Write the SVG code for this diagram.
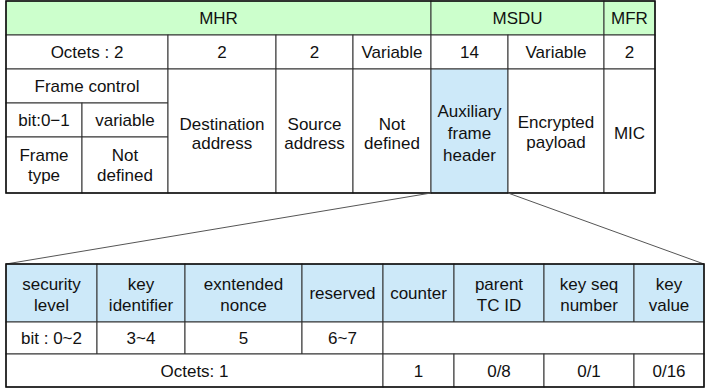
<svg xmlns="http://www.w3.org/2000/svg" width="705" height="389" viewBox="0 0 705 389">
  <style>
    rect { stroke: #333; stroke-width: 1; }
    .w { fill: #ffffff; }
    .g { fill: #ccffcc; }
    .b { fill: #cde9f9; }
    text { font-family: "Liberation Sans", Arial, sans-serif; font-size: 17px; fill: #111; text-anchor: middle; }
    .link { stroke: #555; stroke-width: 1; fill: none; }
    .frame { fill: none; stroke: #111; stroke-width: 1.5; }
  </style>

  <!-- MAC frame: header row -->
  <g id="mhr"><rect class="g" x="6" y="1" width="425" height="34"/><text x="218.5" y="24">MHR</text></g>
  <g id="msdu"><rect class="g" x="431" y="1" width="173" height="34"/><text x="517.5" y="24">MSDU</text></g>
  <g id="mfr"><rect class="g" x="604" y="1" width="51" height="34"/><text x="629.5" y="24">MFR</text></g>

  <!-- octet counts -->
  <g id="oct-fc"><rect class="w" x="6" y="35" width="162" height="34"/><text x="87" y="58">Octets : 2</text></g>
  <g id="oct-dst"><rect class="w" x="168" y="35" width="108" height="34"/><text x="222" y="58">2</text></g>
  <g id="oct-src"><rect class="w" x="276" y="35" width="77" height="34"/><text x="314.5" y="58">2</text></g>
  <g id="oct-nd"><rect class="w" x="353" y="35" width="78" height="34"/><text x="392" y="58">Variable</text></g>
  <g id="oct-aux"><rect class="w" x="431" y="35" width="77" height="34"/><text x="469.5" y="58">14</text></g>
  <g id="oct-pay"><rect class="w" x="508" y="35" width="96" height="34"/><text x="556" y="58">Variable</text></g>
  <g id="oct-mic"><rect class="w" x="604" y="35" width="51" height="34"/><text x="629.5" y="58">2</text></g>

  <!-- frame control breakdown -->
  <g id="frame-control"><rect class="w" x="6" y="69" width="162" height="34"/><text x="87" y="92">Frame control</text></g>
  <g id="fc-bits"><rect class="w" x="6" y="103" width="76" height="34"/><text x="44" y="126">bit:0−1</text></g>
  <g id="fc-var"><rect class="w" x="82" y="103" width="86" height="34"/><text x="125" y="126">variable</text></g>
  <g id="frame-type"><rect class="w" x="6" y="137" width="76" height="56"/><text x="44" y="161">Frame</text><text x="44" y="181">type</text></g>
  <g id="fc-nd"><rect class="w" x="82" y="137" width="86" height="56"/><text x="125" y="161">Not</text><text x="125" y="181">defined</text></g>

  <!-- address and payload fields -->
  <g id="dst-addr"><rect class="w" x="168" y="69" width="108" height="124"/><text x="222" y="130">Destination</text><text x="222" y="149">address</text></g>
  <g id="src-addr"><rect class="w" x="276" y="69" width="77" height="124"/><text x="314.5" y="130">Source</text><text x="314.5" y="149">address</text></g>
  <g id="not-defined"><rect class="w" x="353" y="69" width="78" height="124"/><text x="392" y="130">Not</text><text x="392" y="149">defined</text></g>
  <g id="aux-header"><rect class="b" x="431" y="69" width="77" height="124"/><text x="469.5" y="117">Auxiliary</text><text x="469.5" y="139">frame</text><text x="469.5" y="161">header</text></g>
  <g id="payload"><rect class="w" x="508" y="69" width="96" height="124"/><text x="556" y="128">Encrypted</text><text x="556" y="148">payload</text></g>
  <g id="mic"><rect class="w" x="604" y="69" width="51" height="124"/><text x="629.5" y="139">MIC</text></g>
  <rect class="frame" x="6" y="1" width="649" height="192"/>

  <!-- expansion of the auxiliary frame header -->
  <g id="connectors">
    <line class="link" x1="431" y1="193" x2="6" y2="264"/>
    <line class="link" x1="508" y1="193" x2="704" y2="264"/>
  </g>

  <!-- auxiliary header fields -->
  <g id="sec-level"><rect class="b" x="6" y="264" width="91" height="58"/><text x="51.5" y="290">security</text><text x="51.5" y="311">level</text></g>
  <g id="key-id"><rect class="b" x="97" y="264" width="88" height="58"/><text x="141" y="290">key</text><text x="141" y="311">identifier</text></g>
  <g id="ext-nonce"><rect class="b" x="185" y="264" width="117" height="58"/><text x="243.5" y="290">exntended</text><text x="243.5" y="311">nonce</text></g>
  <g id="reserved"><rect class="b" x="302" y="264" width="81" height="58"/><text x="342.5" y="299">reserved</text></g>
  <g id="counter"><rect class="b" x="383" y="264" width="71" height="58"/><text x="418.5" y="299">counter</text></g>
  <g id="parent-tc"><rect class="b" x="454" y="264" width="90" height="58"/><text x="499" y="290">parent</text><text x="499" y="311">TC ID</text></g>
  <g id="key-seq"><rect class="b" x="544" y="264" width="90" height="58"/><text x="589" y="290">key seq</text><text x="589" y="311">number</text></g>
  <g id="key-value"><rect class="b" x="634" y="264" width="70" height="58"/><text x="669" y="290">key</text><text x="669" y="311">value</text></g>

  <!-- bit positions -->
  <g id="bits-sec"><rect class="w" x="6" y="322" width="91" height="32"/><text x="51.5" y="344">bit : 0~2</text></g>
  <g id="bits-key"><rect class="w" x="97" y="322" width="88" height="32"/><text x="141" y="344">3~4</text></g>
  <g id="bits-nonce"><rect class="w" x="185" y="322" width="117" height="32"/><text x="243.5" y="344">5</text></g>
  <g id="bits-res"><rect class="w" x="302" y="322" width="81" height="32"/><text x="342.5" y="344">6~7</text></g>
  <g id="bits-blank"><rect class="w" x="383" y="322" width="321" height="32"/></g>

  <!-- octet sizes -->
  <g id="oct-sc"><rect class="w" x="6" y="354" width="377" height="33"/><text x="194.5" y="377">Octets: 1</text></g>
  <g id="oct-counter"><rect class="w" x="383" y="354" width="71" height="33"/><text x="418.5" y="377">1</text></g>
  <g id="oct-parent"><rect class="w" x="454" y="354" width="90" height="33"/><text x="499" y="377">0/8</text></g>
  <g id="oct-keyseq"><rect class="w" x="544" y="354" width="90" height="33"/><text x="589" y="377">0/1</text></g>
  <g id="oct-keyval"><rect class="w" x="634" y="354" width="70" height="33"/><text x="669" y="377">0/16</text></g>
  <rect class="frame" x="6" y="264" width="698" height="123"/>
</svg>
